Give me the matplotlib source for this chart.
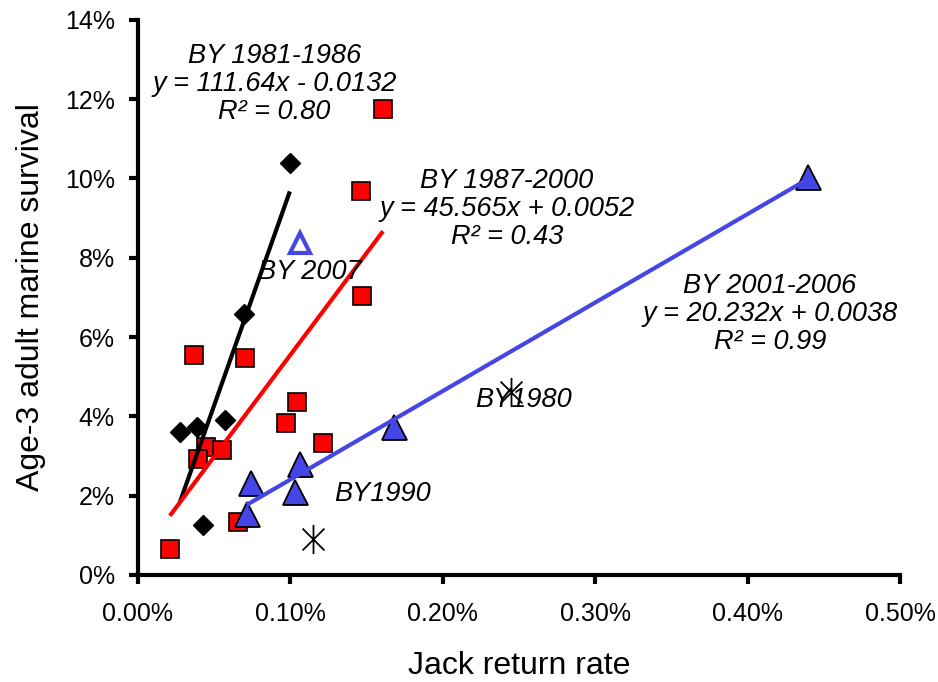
import matplotlib

matplotlib.use("Agg")
import matplotlib.pyplot as plt
import numpy as np
from matplotlib.path import Path
from matplotlib.ticker import PercentFormatter, MultipleLocator

plt.rcParams["font.family"] = ["Liberation Sans", "DejaVu Sans"]

# BY 1981-1986 (black diamonds)
x_8186 = [0.000997, 0.000696, 0.000276, 0.000387, 0.000571, 0.000427]
y_8186 = [0.1039, 0.0658, 0.0361, 0.0373, 0.0391, 0.0126]

# BY 1987-2000 (red squares), BY1990 shown separately
x_8700 = [0.000210, 0.000367, 0.000702, 0.001043, 0.000971, 0.001214, 0.000446,
          0.000394, 0.000551, 0.000656, 0.001470, 0.001463, 0.001608]
y_8700 = [0.0066, 0.0555, 0.0547, 0.0436, 0.0383, 0.0333, 0.0323,
          0.0293, 0.0315, 0.0134, 0.0704, 0.0969, 0.1176]

# BY 2001-2006 (blue triangles)
x_0106 = [0.000741, 0.000715, 0.001063, 0.001030, 0.001680, 0.004396]
y_0106 = [0.0232, 0.0154, 0.0280, 0.0209, 0.0373, 0.1004]

# BY 2007 (open triangle)
x_2007 = [0.001063]
y_2007 = [0.0838]

# excluded years (asterisks)
x_out = [0.002447, 0.001148]
y_out = [0.0462, 0.0091]

labels_8186 = ["BY 1981-1986", "y = 111.64x - 0.0132", "R² = 0.80"]
labels_8700 = ["BY 1987-2000", "y = 45.565x + 0.0052", "R² = 0.43"]
labels_0106 = ["BY 2001-2006", "y = 20.232x + 0.0038", "R² = 0.99"]

BLUE = "#4646E6"

asterisk = Path(
    [(0, -1), (0, 1), (-0.75, -0.75), (0.75, 0.75), (-0.75, 0.75), (0.75, -0.75)],
    [Path.MOVETO, Path.LINETO, Path.MOVETO, Path.LINETO, Path.MOVETO, Path.LINETO],
)


def trend(ax, xs, ys, color):
    xs = np.asarray(xs)
    slope, icpt = np.polyfit(xs, ys, 1)
    xx = np.array([xs.min(), xs.max()])
    ax.plot(xx, slope * xx + icpt, color=color, lw=3, zorder=5, solid_capstyle="butt")


fig = plt.figure(figsize=(9.38, 6.82), dpi=100)
ax = fig.add_axes([0.147, 0.157, 0.8125, 0.814])

ax.plot(x_8186, y_8186, "D", ms=10, color="black", zorder=3)
ax.plot(x_8700, y_8700, "s", ms=13, mfc="#FF0000", mec="black", mew=1.2, zorder=3)
ax.plot(x_0106, y_0106, "^", ms=18, mfc=BLUE, mec="black", mew=1.3, zorder=3)
ax.plot(x_2007, y_2007, "^", ms=14, mfc="white", mec=BLUE, mew=3, zorder=3)
ax.plot(x_out, y_out, ls="none", marker=asterisk, ms=21, mec="black", mew=1.3, zorder=3)

trend(ax, x_8186, y_8186, "black")
trend(ax, x_8700, y_8700, "#FF0000")
trend(ax, x_0106, y_0106, BLUE)

txt = dict(fontsize=19.5, style="italic", ha="center", va="center", zorder=6,
           linespacing=1.12)
ax.text(0.000895, 0.1238, "\n".join(labels_8186), **txt)
ax.text(0.002421, 0.0923, "\n".join(labels_8700), **txt)
ax.text(0.004147, 0.0658, "\n".join(labels_0106), **txt)
ax.text(0.001129, 0.0764, "BY 2007", **txt)
ax.text(0.002533, 0.0441, "BY1980", **txt)
ax.text(0.001608, 0.0204, "BY1990", **txt)

ax.set_xlim(0, 0.005)
ax.set_ylim(0, 0.14)
ax.xaxis.set_major_locator(MultipleLocator(0.001))
ax.yaxis.set_major_locator(MultipleLocator(0.02))
ax.xaxis.set_major_formatter(PercentFormatter(xmax=1, decimals=2))
ax.yaxis.set_major_formatter(PercentFormatter(xmax=1, decimals=0))

for side in ("top", "right"):
    ax.spines[side].set_visible(False)
for side in ("left", "bottom"):
    ax.spines[side].set_linewidth(3)
ax.tick_params(axis="both", direction="out", length=6.5, width=3, labelsize=18)
ax.tick_params(axis="x", pad=13)
ax.tick_params(axis="y", pad=10)

ax.set_xlabel("Jack return rate", fontsize=23, labelpad=18)
ax.set_ylabel("Age-3 adult marine survival", fontsize=23, labelpad=14)

fig.savefig("out.png", dpi=100)
plt.close(fig)
